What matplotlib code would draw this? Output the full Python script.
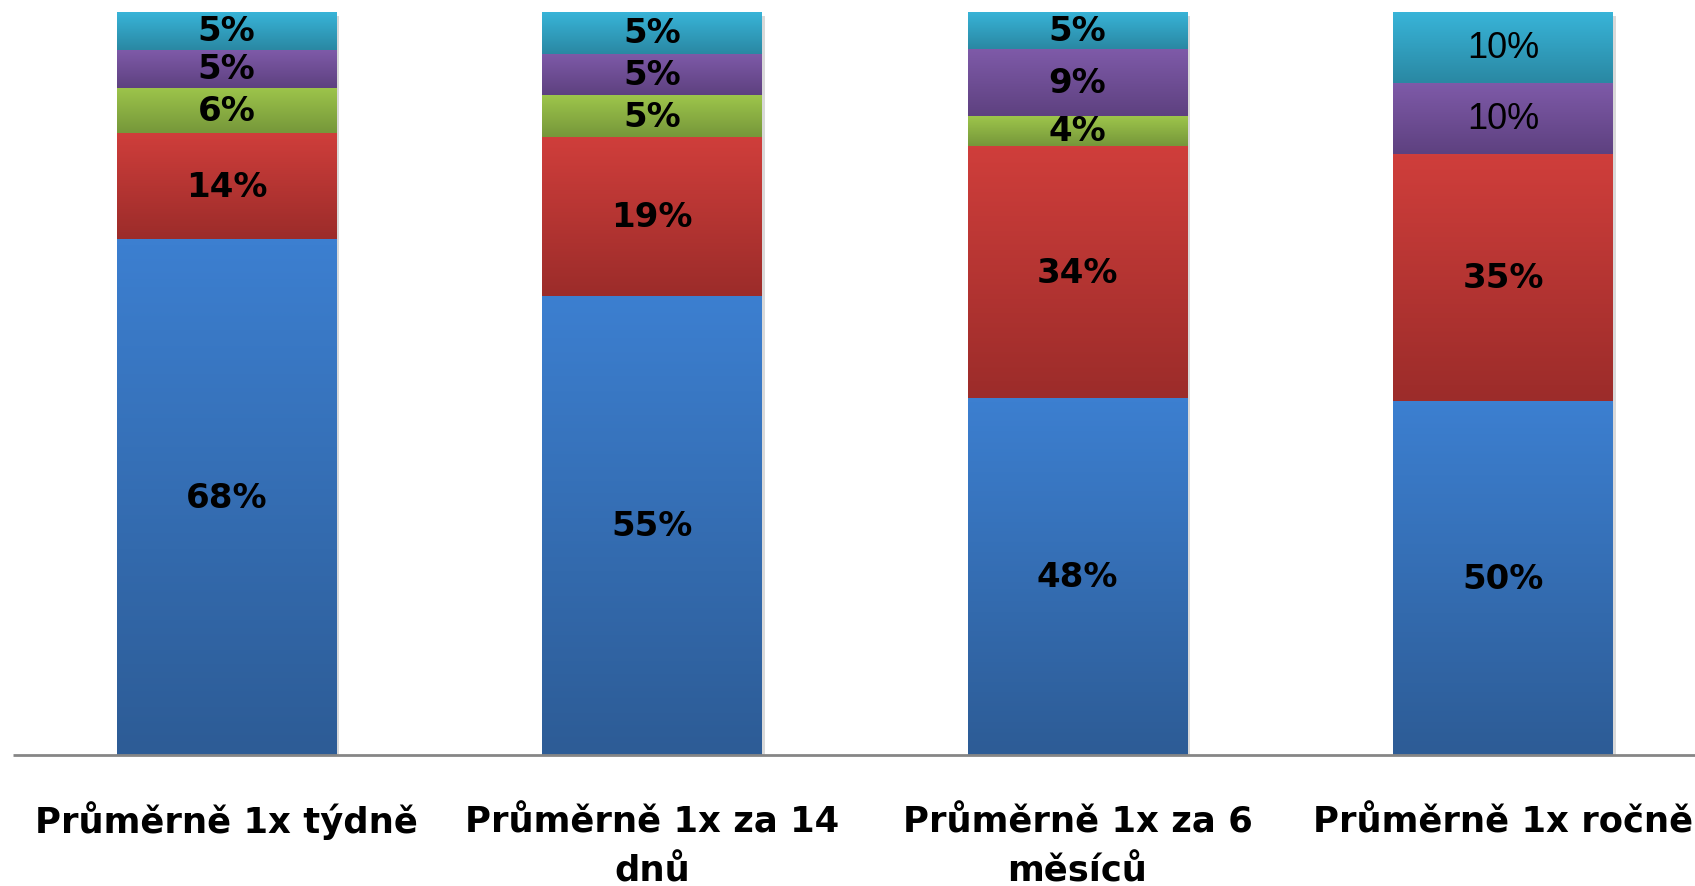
import numpy as np
import matplotlib
matplotlib.use("Agg")
import matplotlib.pyplot as plt
import matplotlib.transforms as mtransforms
from matplotlib.colors import LinearSegmentedColormap
from matplotlib.patches import Rectangle

# ---- data ----
categories = ["Průměrně 1x týdně", "Průměrně 1x za 14\ndnů",
              "Průměrně 1x za 6\nměsíců", "Průměrně 1x ročně"]
s_blue = [68, 55, 48, 50]
s_red = [14, 19, 34, 35]
s_green = [6, 5, 4, 0]
s_purple = [5, 5, 9, 10]
s_cyan = [5, 5, 5, 10]
series = [s_blue, s_red, s_green, s_purple, s_cyan]

# gradient colours (top, bottom) per series
grad = [("#3C7FD0", "#2D5C96"),
        ("#CF3E3B", "#9C2C2A"),
        ("#9DC54B", "#76973A"),
        ("#7E5AA8", "#5E4180"),
        ("#38B4D8", "#2A88A3")]

W, H = 1695, 887
XMIN, XMAX = -0.532, 3.451
fig = plt.figure(figsize=(W / 100, H / 100), dpi=100)
ax = fig.add_axes([0, (H - 756) / H, 1, (756 - 13) / H])
ax.set_xlim(XMIN, XMAX)
ax.set_ylim(0, 1)
ax.axis("off")

bw = 0.515
vals = np.array(series, dtype=float)
totals = vals.sum(axis=0)
frac = vals / totals

# shadow offset transform
shadow_tr = ax.transData + mtransforms.ScaledTranslation(3 / 100, -4 / 100, fig.dpi_scale_trans)

for i in range(len(categories)):
    x0 = i - bw / 2
    sh = Rectangle((x0, 0), bw, 1, facecolor="#000000", alpha=0.15,
                   transform=shadow_tr, zorder=1, linewidth=0)
    ax.add_patch(sh)
    bottom = 0.0
    for k in range(len(series)):
        h = frac[k, i]
        if h <= 0:
            continue
        rect = Rectangle((x0, bottom), bw, h, facecolor="none", edgecolor="none", zorder=2)
        ax.add_patch(rect)
        cmap = LinearSegmentedColormap.from_list("g", [grad[k][1], grad[k][0]])
        img = ax.imshow(np.linspace(0, 1, 64).reshape(-1, 1), cmap=cmap,
                        extent=(x0, x0 + bw, bottom, bottom + h), origin="lower",
                        aspect="auto", interpolation="bilinear", zorder=3)
        img.set_clip_path(rect)
        txt = f"{int(series[k][i])}%"
        if i == 3 and k >= 3:
            ax.text(i, bottom + h / 2, txt, ha="center", va="center",
                    fontsize=26, family="Liberation Sans", color="black", zorder=5)
        else:
            ax.text(i, bottom + h / 2, txt, ha="center", va="center",
                    fontsize=24.5, fontweight="bold", family="DejaVu Sans",
                    color="black", zorder=5)
        bottom += h

# baseline axis line
x_line0 = XMIN + 13 / W * (XMAX - XMIN)
ax.plot([x_line0, XMAX], [0, 0], color="#868686", lw=2,
        zorder=6, clip_on=False, solid_capstyle="butt")

# category labels (each line at its own baseline)
tr = mtransforms.blended_transform_factory(ax.transData, fig.transFigure)
baselines = [833, 882]
for i, c in enumerate(categories):
    for j, line in enumerate(c.split("\n")):
        ax.text(i, (H - baselines[j]) / H, line, transform=tr, ha="center",
                va="baseline", fontsize=25.5, fontweight="bold",
                family="DejaVu Sans", color="black", clip_on=False)

ax.set_ylim(0, 1)
ax.set_xlim(XMIN, XMAX)
fig.savefig("out.png", dpi=100)
